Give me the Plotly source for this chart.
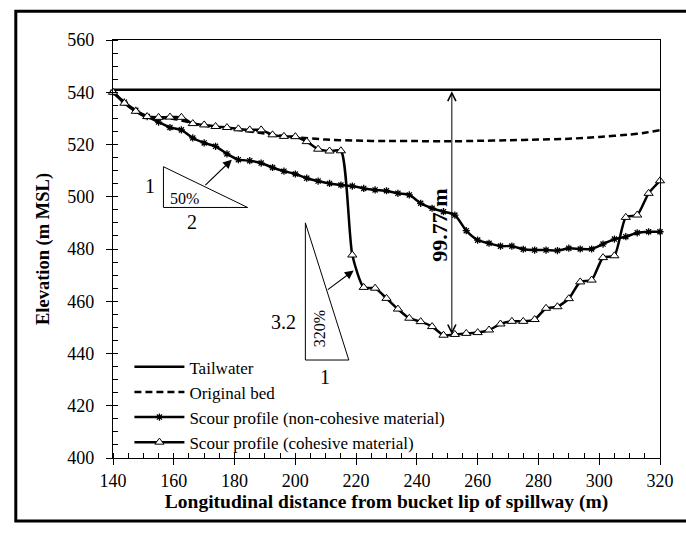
import plotly.graph_objects as go

# ---------------- data ----------------
dist = [140, 143.75, 147.5, 151.25, 155, 158.75, 162.5, 166.25, 170, 173.75,
        177.5, 181.25, 185, 188.75, 192.5, 196.25, 200, 203.75, 207.5, 211.25,
        215, 218.75, 222.5, 226.25, 230, 233.75, 237.5, 241.25, 245, 248.75,
        252.5, 256.25, 260, 263.75, 267.5, 271.25, 275, 278.75, 282.5, 286.25,
        290, 293.75, 297.5, 301.25, 305, 308.75, 312.5, 316.25, 320]

scour_noncohesive = [540, 536.2, 533.1, 530.7, 528.6, 526.5, 525.6, 522.5, 520.6, 519.3,
                     516.4, 514.2, 513.8, 512.9, 511.2, 509.8, 508.7, 507.1, 506.0, 505.1,
                     504.5, 504.1, 503.2, 502.6, 502.3, 501.3, 500.7, 497.5, 495.6, 494.3,
                     493.0, 487.0, 483.4, 482.2, 481.1, 481.1, 479.9, 479.6, 479.6, 479.4,
                     480.3, 480.0, 480.0, 481.9, 483.8, 484.7, 486.2, 486.6, 486.6]

scour_cohesive = [540, 535.8, 532.7, 530.7, 530.4, 530.5, 530.4, 528.0, 527.5, 526.9,
                  526.5, 526.0, 525.6, 525.6, 523.7, 523.1, 523.0, 521.1, 518.2, 517.5,
                  517.6, 477.7, 465.3, 465.0, 461.1, 457.0, 453.5, 452.2, 450.3, 447.0,
                  447.3, 447.7, 448.0, 449.0, 451.3, 452.3, 452.3, 453.0, 457.3, 457.9,
                  461.0, 467.4, 468.1, 476.7, 477.4, 492.1, 493.0, 501.3, 506.1]

bed_dist = [140, 150, 160, 170, 180, 190, 200, 210, 220, 230, 240, 250, 260, 270,
            280, 290, 300, 310, 315, 320]
original_bed = [540, 531, 529.8, 527.2, 525.8, 524.2, 522.8, 521.9, 521.5, 521.3,
                521.3, 521.2, 521.4, 521.6, 521.9, 522.2, 522.9, 523.8, 524.5, 525.5]

tail_dist = [140, 320]
tailwater = [541, 541]

depth_label = "99.77 m"

FONT = "Liberation Serif"

fig = go.Figure()

fig.add_trace(go.Scatter(x=tail_dist, y=tailwater, mode="lines", name="Tailwater",
                         line=dict(color="black", width=2.5), cliponaxis=False))
fig.add_trace(go.Scatter(x=bed_dist, y=original_bed, mode="lines", name="Original bed",
                         line=dict(color="black", width=2.5, dash="7px,4px", shape="spline",
                                   smoothing=0.6), cliponaxis=False))
fig.add_trace(go.Scatter(x=dist, y=scour_noncohesive, mode="lines+markers",
                         name="Scour profile (non-cohesive material)",
                         line=dict(color="black", width=2.5, shape="spline", smoothing=0.6),
                         marker=dict(symbol="asterisk-open", size=6,
                                     line=dict(color="black", width=1.3)),
                         cliponaxis=False))
fig.add_trace(go.Scatter(x=dist, y=scour_cohesive, mode="lines+markers",
                         name="Scour profile (cohesive material)",
                         line=dict(color="black", width=2.5, shape="spline", smoothing=0.6),
                         marker=dict(symbol="triangle-up", size=8, color="white",
                                     line=dict(color="black", width=1)),
                         cliponaxis=False))

shapes = [
    dict(type="path", xref="x", yref="y",
         path="M 156.6 511.5 L 156.6 495.9 L 184.3 495.9 Z",
         line=dict(color="black", width=1), fillcolor="white", layer="above"),
    dict(type="path", xref="x", yref="y",
         path="M 203.3 490 L 203.3 437.5 L 217.6 437.5 Z",
         line=dict(color="black", width=1), fillcolor="white", layer="above"),
    dict(type="rect", xref="paper", yref="paper", x0=-0.1777, x1=1.06, y0=-0.1507, y1=1.069,
         line=dict(color="black", width=3), fillcolor="rgba(0,0,0,0)", layer="above"),
]

annotations = [
    dict(x=179.1, y=514.2, ax=169.9, ay=503.9, xref="x", yref="y", axref="x", ayref="y",
         text="", showarrow=True, arrowhead=2, arrowsize=1.6, arrowwidth=1.1, arrowcolor="black"),
    dict(x=219.2, y=471.8, ax=210.2, ay=464.0, xref="x", yref="y", axref="x", ayref="y",
         text="", showarrow=True, arrowhead=2, arrowsize=1.6, arrowwidth=1.1, arrowcolor="black"),
    dict(x=251.5, y=447.3, ax=251.5, ay=541, xref="x", yref="y", axref="x", ayref="y",
         text="", showarrow=True, arrowhead=5, startarrowhead=5, arrowside="end+start",
         arrowsize=1.6, startarrowsize=1.6, arrowwidth=1, arrowcolor="black"),
    dict(x=247.4, y=489, xref="x", yref="y", text="<b>" + depth_label + "</b>", showarrow=False,
         textangle=-90, font=dict(family=FONT, size=22, color="black")),
    dict(x=152.3, y=504.3, xref="x", yref="y", text="1", showarrow=False,
         font=dict(family=FONT, size=20, color="black")),
    dict(x=163.6, y=499.4, xref="x", yref="y", text="50%", showarrow=False,
         font=dict(family=FONT, size=16, color="black")),
    dict(x=166.1, y=490.3, xref="x", yref="y", text="2", showarrow=False,
         font=dict(family=FONT, size=20, color="black")),
    dict(x=196.2, y=451.9, xref="x", yref="y", text="3.2", showarrow=False,
         font=dict(family=FONT, size=20, color="black")),
    dict(x=207.8, y=449.3, xref="x", yref="y", text="320%", showarrow=False, textangle=-90,
         font=dict(family=FONT, size=16, color="black")),
    dict(x=209.6, y=431.0, xref="x", yref="y", text="1", showarrow=False,
         font=dict(family=FONT, size=20, color="black")),
]

axis_common = dict(showgrid=False, zeroline=False, showline=True, linecolor="black",
                   linewidth=1.2, mirror=True, ticks="outside", ticklen=6, tickwidth=1,
                   tickcolor="black", tickfont=dict(family=FONT, size=18, color="black"))

fig.update_layout(
    width=686, height=533,
    margin=dict(l=113, r=16, t=40, b=75),
    paper_bgcolor="white", plot_bgcolor="white",
    font=dict(family=FONT, color="black"),
    showlegend=True,
    legend=dict(x=0.03, y=0.26, xanchor="left", yanchor="top", itemwidth=50,
                bgcolor="rgba(0,0,0,0)", borderwidth=0, tracegroupgap=0,
                font=dict(family=FONT, size=17, color="black")),
    xaxis=dict(range=[140, 320], tick0=140, dtick=20,
               minor=dict(dtick=5, ticks="inside", ticklen=5, tickwidth=1, tickcolor="black"),
               title=dict(text="<b>Longitudinal distance from bucket lip of spillway (m)</b>",
                          font=dict(family=FONT, size=19.5, color="black"), standoff=4),
               **axis_common),
    yaxis=dict(range=[400, 560], tick0=400, dtick=20, ticklabelstandoff=8,
               minor=dict(dtick=5, ticks="inside", ticklen=5, tickwidth=1, tickcolor="black"),
               title=dict(text="<b>Elevation (m MSL)</b>",
                          font=dict(family=FONT, size=18.5, color="black"), standoff=12),
               **axis_common),
    xaxis2=dict(range=[140, 320], overlaying="x", anchor="y", side="bottom", tick0=140,
                dtick=20, ticks="inside", ticklen=6, tickcolor="black", showticklabels=False,
                showgrid=False, zeroline=False, showline=False),
    yaxis2=dict(range=[400, 560], overlaying="y", anchor="x", side="left", tick0=400,
                dtick=20, ticks="inside", ticklen=6, tickcolor="black", showticklabels=False,
                showgrid=False, zeroline=False, showline=False),
    shapes=shapes,
    annotations=annotations,
)

fig.write_html("out.html")
